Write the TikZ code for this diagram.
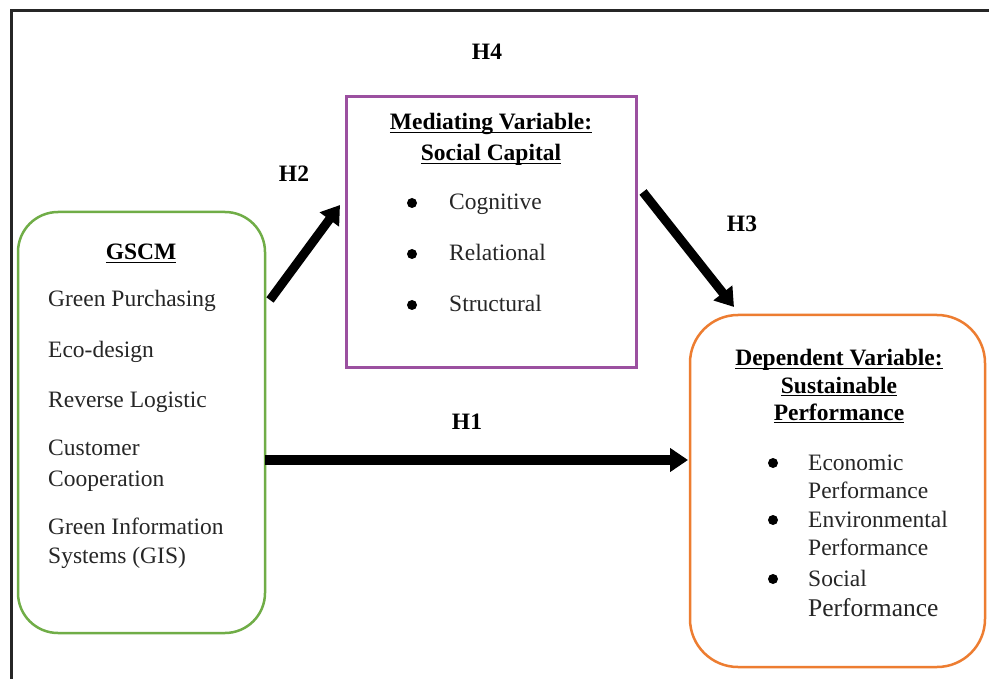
\documentclass[tikz,border=0pt]{standalone}
\usepackage{fontspec}
\setmainfont{Liberation Serif}
\usetikzlibrary{arrows.meta}
\definecolor{gscmgreen}{HTML}{70AD47}
\definecolor{medpurple}{RGB}{155,80,160}
\definecolor{deporange}{HTML}{ED7D31}
\newcommand\myul[1]{\setbox0\hbox{#1}\rlap{\rule[-3.5pt]{\wd0}{1.3pt}}\box0}
\begin{document}
\begin{tikzpicture}[x=1pt,y=-1pt,
  txt/.style={anchor=base west,inner sep=0pt,text=black!85,font=\fontsize{23.5}{28}\selectfont},
  hd/.style={anchor=base,inner sep=0pt,font=\fontsize{23.5}{28}\selectfont\bfseries},
  hlab/.style={anchor=base,inner sep=0pt,font=\fontsize{23.5}{28}\selectfont\bfseries},
  bul/.style={circle,fill=black,inner sep=0pt,minimum size=10pt},
  bigarrow/.style={draw=black,line width=#1,-{Triangle[length=18pt,width=23pt]}},
  bigarrow/.default=9pt]
\useasboundingbox (0,0) rectangle (989,679);
\fill[white] (0,0) rectangle (989,679);
% frame
\draw[line width=3pt,black!85] (11,690) -- (11,11) -- (1000,11);

% boxes
\node[draw=gscmgreen,line width=2.5pt,rounded corners=40pt,minimum width=247pt,minimum height=421pt,inner sep=0pt] (gscm) at (141.5,422.5) {};
\node[draw=medpurple,line width=3pt,minimum width=290pt,minimum height=271pt,inner sep=0pt] (med) at (491,232.5) {};
\node[draw=deporange,line width=2.5pt,rounded corners=48pt,minimum width=295pt,minimum height=352pt,inner sep=0pt] (dep) at (837.5,491) {};

% GSCM texts
\node[hd] (gT) at (141,260) {\myul{GSCM}};
\node[txt] (g1) at (48,307) {Green Purchasing};
\node[txt] (g2) at (48,358) {Eco-design};
\node[txt] (g3) at (48,407) {Reverse Logistic};
\node[txt] (g4) at (48,455) {Customer};
\node[txt] (g5) at (48,486) {Cooperation};
\node[txt] (g6) at (48,534) {Green Information};
\node[txt] (g7) at (48,563) {Systems (GIS)};

% Mediating texts
\node[hd] (mT1) at (491,130) {\myul{Mediating Variable:}};
\node[hd] (mT2) at (491,161) {\myul{Social Capital}};
\node[bul] (mb1) at (412,203) {};
\node[bul] (mb2) at (412,254) {};
\node[bul] (mb3) at (412,305) {};
\node[txt] (m1) at (449,210) {Cognitive};
\node[txt] (m2) at (449,261) {Relational};
\node[txt] (m3) at (449,312) {Structural};

% Dependent texts
\node[hd] (dT1) at (839,366) {\myul{Dependent Variable:}};
\node[hd] (dT2) at (839,393) {\myul{Sustainable}};
\node[hd] (dT3) at (839,420) {\myul{Performance}};
\node[bul] (db1) at (773,463) {};
\node[bul] (db2) at (773,520) {};
\node[bul] (db3) at (773,579) {};
\node[txt] (d1) at (808,470) {Economic};
\node[txt] (d2) at (808,498) {Performance};
\node[txt] (d3) at (808,527) {Environmental};
\node[txt] (d4) at (808,555) {Performance};
\node[txt] (d5) at (808,586) {Social};
\node[txt,font=\fontsize{25.5}{30}\selectfont] (d6) at (808,616) {Performance};

% hypothesis labels
\node[hlab] (H4) at (487,60) {H4};
\node[hlab] (H2) at (294,182) {H2};
\node[hlab] (H3) at (742,232) {H3};
\node[hlab] (H1) at (467,429) {H1};

% arrow end points
\coordinate (h2s) at (270,300);
\coordinate (h2e) at (340,205);
\coordinate (h3s) at (643,192);
\coordinate (h3e) at (734,307);
\coordinate (h1s) at (265,460);
\coordinate (h1e) at (688,460);

\draw[bigarrow] (h2s) -- (h2e);
\draw[bigarrow] (h3s) -- (h3e);
\draw[bigarrow=10pt] (h1s) -- (h1e);
\end{tikzpicture}
\end{document}
